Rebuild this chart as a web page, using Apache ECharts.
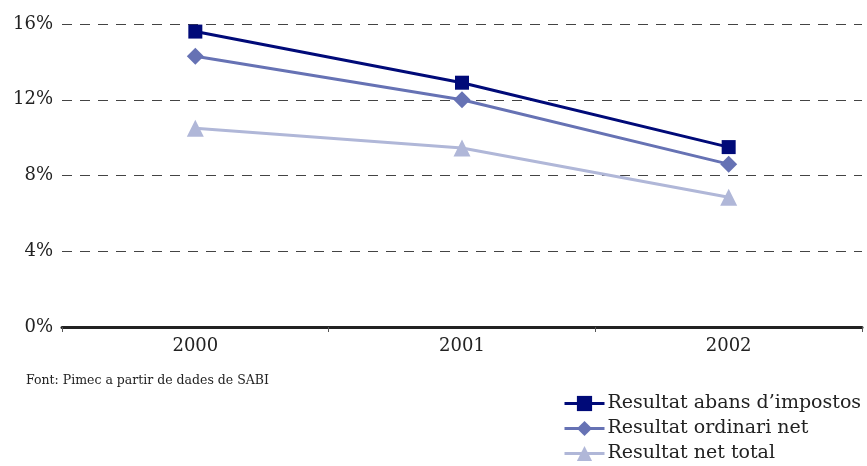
<!DOCTYPE html>
<html>
<head>
<meta charset="utf-8">
<script src="https://cdn.jsdelivr.net/npm/echarts@6/dist/echarts.min.js"></script>
<style>
  html, body { margin: 0; padding: 0; background: #fff; }
  #main { width: 867px; height: 466px; }
</style>
</head>
<body>
<div id="main"></div>
<script>
let years = ["2000", "2001", "2002"];
let seriesNames = ["Resultat abans d\u2019impostos", "Resultat ordinari net", "Resultat net total"];
let abansImpostos = [15.6, 12.9, 9.5];
let ordinariNet = [14.3, 12.0, 8.6];
let netTotal = [10.5, 9.45, 6.85];
let colors = ["#000a78", "#6672b4", "#b0b7d8"];
let symbols = ["rect", "diamond", "triangle"];
let symbolSizes = [14, 17, 17];
let sourceText = "Font: Pimec a partir de dades de SABI";

let myChart = echarts.init(document.getElementById("main"));
let serif = "'DejaVu Serif', 'Liberation Serif', serif";
let allData = [abansImpostos, ordinariNet, netTotal];

let series = [];
for (let i = 0; i < allData.length; i++) {
  series.push({
    type: "line",
    name: seriesNames[i],
    data: allData[i],
    symbol: symbols[i],
    symbolSize: symbolSizes[i],
    color: colors[i],
    lineStyle: { width: 3, color: colors[i] },
    itemStyle: { color: colors[i] },
    z: 10 - i,
  });
}

let option = {
  animation: false,
  backgroundColor: "#fff",
  grid: { left: 62, right: 5, top: 24, bottom: 139 },
  xAxis: {
    type: "category",
    data: years,
    boundaryGap: true,
    axisLine: { lineStyle: { color: "#222", width: 3 } },
    axisTick: { show: true, length: 5, lineStyle: { color: "#555", width: 1 } },
    axisLabel: { color: "#222", fontFamily: serif, fontSize: 18, margin: 10 },
  },
  yAxis: {
    type: "value",
    min: 0,
    max: 16,
    interval: 4,
    axisLine: { show: false },
    axisTick: { show: false },
    axisLabel: {
      color: "#222",
      fontFamily: serif,
      fontSize: 18,
      margin: 9,
      formatter: "{value}%",
    },
    splitLine: {
      lineStyle: { color: "#444", type: [10, 8], width: 1 },
    },
  },
  legend: {
    orient: "vertical",
    left: 558,
    top: 389,
    height: 80,
    itemGap: 6,
    itemWidth: 40,
    itemHeight: 19,
    lineStyle: { width: 3 },
    textStyle: { fontFamily: serif, fontSize: 19, color: "#222", padding: [0, 0, 0, -2] },
    data: seriesNames,
  },
  graphic: [
    {
      type: "text",
      left: 26,
      top: 374,
      style: { text: sourceText, font: "12.5px " + serif, fill: "#222" },
    },
  ],
  series: series,
};

myChart.setOption(option);
</script>
</body>
</html>
